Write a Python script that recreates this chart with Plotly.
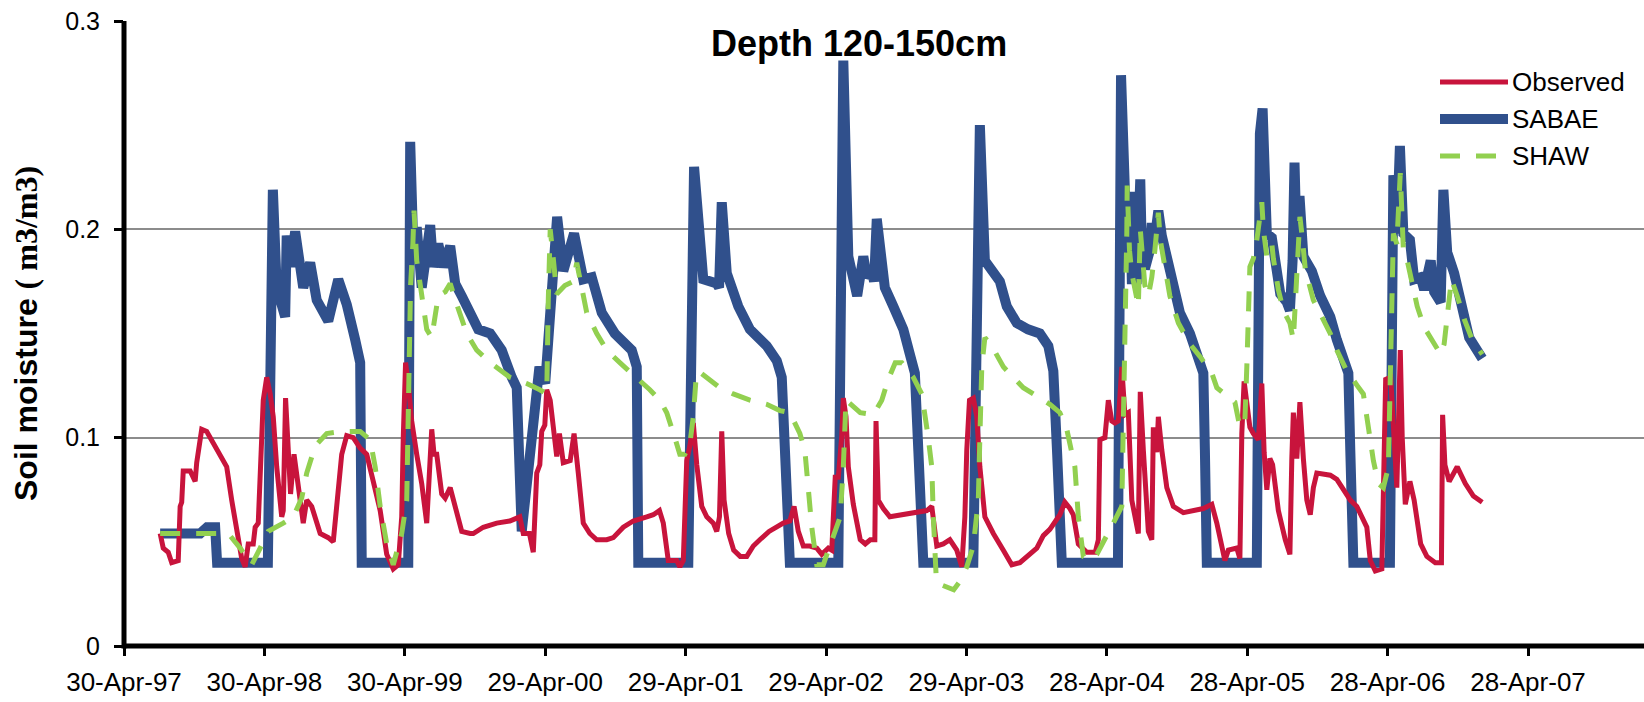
import pandas as pd
import plotly.graph_objects as go

START = pd.Timestamp("1997-04-30")

# ---- data (days since 30-Apr-1997, soil moisture m3/m3) ----
sabae_day = [94, 198, 216, 237, 242, 374, 387, 397, 419, 423, 433, 445, 466, 484, 501, 531, 557, 579, 601, 614, 618,
             739, 744, 752, 761, 774, 796, 804, 817, 830, 848, 861, 878, 900, 921, 952, 982, 1008, 1021, 1034, 1080,
             1095, 1126, 1142, 1155, 1170, 1194, 1216, 1242, 1276, 1320, 1333, 1337,
             1467, 1482, 1492, 1506, 1541, 1547, 1554, 1567, 1597, 1627, 1671, 1697, 1710, 1718, 1731,
             1857, 1870, 1883, 1906, 1922, 1931, 1944, 1950, 1957, 1968, 1978, 2000, 2026, 2043, 2056, 2065, 2078,
             2208, 2225, 2238, 2260, 2277, 2295, 2321, 2350, 2381, 2403, 2416, 2426, 2438,
             2584, 2592, 2602, 2607, 2615, 2620, 2633, 2642, 2646, 2654, 2667, 2672, 2680, 2689, 2698, 2711, 2728,
             2745, 2771, 2797, 2806, 2810, 2815,
             2945, 2953, 2960, 2966, 2971, 2984, 2992, 3006, 3023, 3031, 3038, 3043, 3049, 3056, 3066, 3088, 3110,
             3136, 3153, 3174, 3183, 3188, 3196,
             3291, 3296, 3300, 3309, 3317, 3326, 3343, 3354, 3371, 3380, 3397, 3406, 3423, 3430, 3440, 3458, 3475,
             3497, 3531]
sabae_val = [0.054, 0.054, 0.057, 0.057, 0.040, 0.040, 0.219, 0.172, 0.158, 0.197, 0.182, 0.199, 0.172, 0.184, 0.166,
             0.156, 0.176, 0.164, 0.147, 0.136, 0.040,
             0.040, 0.242, 0.192, 0.201, 0.172, 0.202, 0.182, 0.193, 0.182, 0.192, 0.174, 0.168, 0.160, 0.152, 0.150,
             0.142, 0.129, 0.124, 0.055, 0.134,
             0.126, 0.206, 0.180, 0.187, 0.198, 0.176, 0.177, 0.160, 0.150, 0.142, 0.134, 0.040,
             0.040, 0.230, 0.201, 0.176, 0.174, 0.172, 0.213, 0.179, 0.163, 0.152, 0.144, 0.137, 0.129, 0.094, 0.040,
             0.040, 0.281, 0.187, 0.168, 0.187, 0.177, 0.180, 0.175, 0.205, 0.180, 0.172, 0.163, 0.152, 0.140, 0.131,
             0.094, 0.040,
             0.040, 0.250, 0.185, 0.179, 0.175, 0.163, 0.155, 0.152, 0.150, 0.144, 0.132, 0.092, 0.040,
             0.040, 0.274, 0.219, 0.182, 0.218, 0.176, 0.176, 0.224, 0.190, 0.181, 0.190, 0.203, 0.196, 0.209, 0.197,
             0.187, 0.173,
             0.160, 0.150, 0.136, 0.131, 0.094, 0.040,
             0.040, 0.246, 0.258, 0.215, 0.198, 0.196, 0.183, 0.169, 0.165, 0.161, 0.185, 0.232, 0.190, 0.216, 0.187,
             0.180, 0.168,
             0.158, 0.147, 0.134, 0.131, 0.094, 0.040,
             0.040, 0.160, 0.226, 0.198, 0.240, 0.198, 0.195, 0.176, 0.177, 0.171, 0.185, 0.170, 0.165, 0.219, 0.189,
             0.179, 0.163,
             0.148, 0.138]

obs_day = [94, 102, 115, 124, 141, 146, 150, 154, 172, 185, 189, 202, 215, 241, 267, 280, 293, 306, 315, 323, 336,
           341, 349, 362, 371, 380, 388, 397, 410, 414, 420, 427, 433, 442, 449, 458, 466, 475, 488, 510, 531, 544,
           553, 566, 579, 596, 614, 631, 648, 666, 683, 700, 713, 722, 726, 732, 739, 748, 761, 774, 787, 796, 800,
           806, 813, 826, 835, 848, 861, 878, 900, 908, 934, 969, 1003, 1029, 1038, 1054, 1064, 1068, 1073, 1081,
           1086, 1094, 1099, 1108, 1116, 1125, 1132, 1142, 1160, 1170, 1181, 1194, 1211, 1229, 1255, 1272, 1298,
           1324, 1359, 1376, 1392, 1402, 1415, 1437, 1445, 1454, 1463, 1471, 1480, 1489, 1502, 1515, 1532, 1541,
           1548, 1554, 1560, 1572, 1585, 1602, 1619, 1636, 1653, 1677, 1714, 1731, 1742, 1753, 1766, 1783, 1801,
           1814, 1831, 1840, 1849, 1857, 1866, 1870, 1877, 1883, 1896, 1914, 1927, 1940, 1952, 1955, 1961, 1974,
           1991, 2026, 2061, 2087, 2100, 2104, 2113, 2130, 2147, 2165, 2178, 2186, 2191, 2198, 2208, 2217, 2225,
           2238, 2260, 2286, 2308, 2329, 2347, 2373, 2390, 2407, 2433, 2446, 2459, 2468, 2481, 2503, 2525, 2533,
           2537, 2550, 2559, 2568, 2576, 2585, 2594, 2602, 2611, 2620, 2637, 2642, 2650, 2663, 2672, 2676, 2685,
           2689, 2698, 2711, 2728, 2754, 2806, 2828, 2841, 2854, 2862, 2871, 2893, 2901, 2906, 2912, 2919, 2927,
           2936, 2949, 2958, 2964, 2971, 2979, 2986, 2992, 3001, 3019, 3031, 3036, 3040, 3049, 3057, 3066, 3075,
           3084, 3092, 3101, 3136, 3153, 3170, 3188, 3205, 3221, 3231, 3240, 3253, 3270, 3274, 3280, 3293, 3303,
           3309, 3318, 3323, 3331, 3343, 3354, 3371, 3387, 3409, 3425, 3428, 3434, 3445, 3466, 3487, 3508, 3531]
obs_val = [0.054, 0.047, 0.045, 0.040, 0.041, 0.067, 0.069, 0.084, 0.084, 0.079, 0.088, 0.104, 0.103, 0.094, 0.086,
           0.070, 0.054, 0.042, 0.038, 0.049, 0.049,
           0.057, 0.059, 0.118, 0.129, 0.121, 0.110, 0.086, 0.062, 0.065, 0.119, 0.086, 0.073, 0.092, 0.081, 0.071,
           0.059, 0.070, 0.067, 0.054, 0.052, 0.050,
           0.070, 0.092, 0.101, 0.100, 0.095, 0.092, 0.079, 0.065, 0.044, 0.037, 0.039, 0.062, 0.100, 0.136, 0.126,
           0.108, 0.092, 0.078, 0.059, 0.092, 0.104,
           0.092, 0.092, 0.073, 0.071, 0.076, 0.066, 0.055, 0.054, 0.054, 0.057, 0.059, 0.060, 0.062, 0.054, 0.054,
           0.045, 0.062, 0.083, 0.087,
           0.103, 0.106, 0.123, 0.118, 0.106, 0.091, 0.102, 0.088, 0.089, 0.102, 0.083, 0.059, 0.054, 0.051, 0.051,
           0.052, 0.057,
           0.060, 0.062, 0.063, 0.065, 0.059, 0.041, 0.041, 0.038, 0.041, 0.089, 0.096, 0.107, 0.087, 0.067, 0.062,
           0.059, 0.055,
           0.062, 0.103, 0.070, 0.054, 0.046, 0.043, 0.043, 0.048, 0.051, 0.055, 0.059, 0.060, 0.067, 0.055, 0.048,
           0.048, 0.047,
           0.044, 0.047, 0.046, 0.081, 0.081, 0.101, 0.119, 0.110, 0.086, 0.068, 0.051, 0.049, 0.051, 0.051, 0.108,
           0.070, 0.066,
           0.062, 0.063, 0.064, 0.065, 0.067, 0.060, 0.048, 0.049, 0.051, 0.046, 0.038, 0.062, 0.094, 0.118, 0.119,
           0.110, 0.086,
           0.062, 0.054, 0.046, 0.039, 0.040, 0.043, 0.047, 0.053, 0.056, 0.063, 0.069, 0.066, 0.063, 0.049, 0.045,
           0.045, 0.051,
           0.099, 0.100, 0.118, 0.108, 0.107, 0.108, 0.134, 0.111, 0.112, 0.070, 0.054, 0.122, 0.094, 0.055, 0.051,
           0.105, 0.093,
           0.110, 0.094, 0.076, 0.067, 0.064, 0.066, 0.068, 0.059, 0.047, 0.041, 0.046, 0.047, 0.042, 0.102, 0.127,
           0.118, 0.105,
           0.102, 0.099, 0.126, 0.093, 0.075, 0.090, 0.087, 0.078, 0.065, 0.051, 0.044, 0.090, 0.112, 0.090, 0.117,
           0.090, 0.070,
           0.063, 0.076, 0.083, 0.082, 0.080, 0.075, 0.070, 0.067, 0.060, 0.057, 0.041, 0.036, 0.037, 0.085, 0.128,
           0.129, 0.095,
           0.076, 0.142, 0.100, 0.068, 0.079, 0.070, 0.049, 0.043, 0.040, 0.040, 0.111, 0.087, 0.079, 0.086, 0.078,
           0.072, 0.069]

shaw_day = [94, 198, 271, 302, 332, 354, 375, 414, 440, 462, 475, 497, 527, 566, 614, 640, 653, 666, 683, 700, 722,
            735, 742, 745, 751, 754, 761, 770, 778, 787, 800, 809, 817, 835, 848, 865, 891, 917, 952, 1003, 1047,
            1081, 1099, 1103, 1108, 1116, 1125, 1146, 1168, 1177, 1190, 1203, 1229, 1255, 1289, 1333, 1367, 1393,
            1411, 1432, 1445, 1458, 1471, 1480, 1487, 1493, 1515, 1549, 1584, 1627, 1671, 1705, 1731, 1757, 1770,
            1779, 1788, 1801, 1818, 1831, 1862, 1870, 1877, 1914, 1948, 1970, 1987, 2005, 2022, 2052, 2074, 2090,
            2100, 2104, 2111, 2116, 2157, 2173, 2191, 2208, 2221, 2225, 2230, 2238, 2256, 2286, 2338, 2373, 2407,
            2433, 2451, 2472, 2481, 2494, 2511, 2529, 2550, 2572, 2594, 2598, 2602, 2607, 2608, 2614, 2620, 2629,
            2637, 2642, 2646, 2654, 2663, 2672, 2680, 2689, 2694, 2707, 2719, 2741, 2771, 2797, 2828, 2841, 2871,
            2888, 2901, 2914, 2919, 2923, 2927, 2936, 2945, 2958, 2962, 2971, 2984, 2988, 3001, 3014, 3031, 3040,
            3045, 3049, 3053, 3057, 3062, 3071, 3092, 3118, 3136, 3153, 3179, 3206, 3222, 3235, 3248, 3261, 3274,
            3287, 3291, 3296, 3300, 3309, 3318, 3326, 3336, 3349, 3362, 3380, 3397, 3423, 3432, 3440, 3451, 3466,
            3484, 3505, 3531]
shaw_val = [0.054, 0.054, 0.054, 0.047, 0.039, 0.047, 0.055, 0.059, 0.062, 0.071, 0.083, 0.096, 0.102, 0.103, 0.103,
            0.099, 0.086, 0.067, 0.049, 0.039, 0.054,
            0.070, 0.134, 0.173, 0.193, 0.209, 0.185, 0.173, 0.161, 0.152, 0.148, 0.160, 0.168, 0.170, 0.174, 0.164,
            0.150, 0.142, 0.136, 0.129, 0.126,
            0.123, 0.121, 0.166, 0.200, 0.186, 0.169, 0.173, 0.175, 0.184, 0.172, 0.160, 0.150, 0.142, 0.136, 0.129,
            0.123, 0.118,
            0.112, 0.100, 0.092, 0.092, 0.097, 0.110, 0.128, 0.132, 0.129, 0.124, 0.121, 0.118, 0.116, 0.113, 0.112,
            0.102, 0.094,
            0.076, 0.057, 0.039, 0.039, 0.046, 0.062, 0.086, 0.118, 0.112, 0.111, 0.118, 0.128, 0.136, 0.136, 0.129,
            0.121, 0.101,
            0.086, 0.062, 0.035, 0.030, 0.027, 0.031, 0.038, 0.048, 0.070, 0.100, 0.134, 0.148, 0.144, 0.134, 0.124,
            0.120, 0.116,
            0.112, 0.104, 0.086, 0.062, 0.043, 0.041, 0.044, 0.052, 0.059, 0.067, 0.100, 0.150, 0.198, 0.221, 0.190,
            0.179, 0.169,
            0.163, 0.200, 0.190, 0.173, 0.168, 0.177, 0.190, 0.208, 0.195, 0.182, 0.168, 0.155, 0.145, 0.139, 0.131,
            0.124, 0.120,
            0.117, 0.105, 0.108, 0.134, 0.166, 0.182, 0.186, 0.195, 0.213, 0.200, 0.187, 0.193, 0.186, 0.171, 0.161,
            0.155, 0.147,
            0.163, 0.179, 0.198, 0.206, 0.198, 0.181, 0.166, 0.157, 0.150, 0.142, 0.132, 0.125, 0.121, 0.105, 0.089,
            0.078, 0.076,
            0.086, 0.118, 0.166, 0.198, 0.193, 0.227, 0.190, 0.185, 0.174, 0.163, 0.153, 0.148, 0.140, 0.145, 0.160,
            0.176, 0.168,
            0.157, 0.147, 0.140]

tick_days = [0, 365, 730, 1095, 1460, 1825, 2190, 2555, 2920, 3285, 3650]
y_ticks = [0, 0.1, 0.2, 0.3]
y_ticktext = ["0", "0.1", "0.2", "0.3"]
series_names = ["Observed", "SABAE", "SHAW"]


def to_dates(days):
    return [START + pd.Timedelta(days=d) for d in days]


tick_dates = to_dates(tick_days)
tick_text = [d.strftime("%d-%b-%y") for d in tick_dates]

C_OBS = "#C8143C"
C_SAB = "#30508C"
C_SHAW = "#92D050"
FONT = "Liberation Sans, Arial, sans-serif"

fig = go.Figure()
fig.add_trace(go.Scatter(x=to_dates(sabae_day), y=sabae_val, mode="lines", name="SABAE",
                         line=dict(color=C_SAB, width=10), showlegend=False))
fig.add_trace(go.Scatter(x=to_dates(obs_day), y=obs_val, mode="lines", name="Observed",
                         line=dict(color=C_OBS, width=5), showlegend=False))
fig.add_trace(go.Scatter(x=to_dates(shaw_day), y=shaw_val, mode="lines", name="SHAW",
                         line=dict(color=C_SHAW, width=5, dash="20px,16px"), showlegend=False))

# plot area in pixels: left 124, right 1644, top 21, bottom 646
L, R, T, B = 124, 1644, 21, 646


def px(x):
    return (x - L) / (R - L)


def py(y):
    return (B - y) / (B - T)


# thick black axis lines along the plot-area edges
shapes = [dict(type="line", xref="paper", yref="paper", x0=0, x1=1, y0=0, y1=0, layer="above",
               line=dict(color="black", width=5)),
          dict(type="line", xref="paper", yref="paper", x0=0, x1=0, y0=py(B + 2.5), y1=1, layer="above",
               line=dict(color="black", width=5))]
annotations = []

# custom legend (long line samples like the original)
legend_rows = [(series_names[0], C_OBS, 5, "solid", 82),
               (series_names[1], C_SAB, 10, "solid", 119),
               (series_names[2], C_SHAW, 5, "20px,16px", 156)]
for name, col, w, dash, ypix in legend_rows:
    shapes.append(dict(type="line", xref="paper", yref="paper", x0=px(1440), x1=px(1508),
                       y0=py(ypix), y1=py(ypix), line=dict(color=col, width=w, dash=dash)))
    annotations.append(dict(text=name, xref="paper", yref="paper", x=px(1510), y=py(ypix),
                            xanchor="left", yanchor="middle", showarrow=False,
                            font=dict(family=FONT, size=26, color="black")))

annotations.append(dict(text="<b>Depth 120-150cm</b>", xref="paper", yref="paper", x=px(859), y=py(43),
                        xanchor="center", yanchor="middle", showarrow=False,
                        font=dict(family=FONT, size=36, color="black")))
annotations.append(dict(text="<b>Soil moisture <span style=\"font-family:'Liberation Serif', 'Times New Roman', serif\">( m3/m3)</span></b>",
                        xref="paper", yref="paper", x=px(26), y=py(334), textangle=-90,
                        xanchor="center", yanchor="middle", showarrow=False,
                        font=dict(family=FONT, size=32, color="black")))

fig.update_layout(
    width=1644, height=702,
    margin=dict(l=L, r=1644 - R, t=T, b=702 - B, pad=0, autoexpand=False),
    paper_bgcolor="white", plot_bgcolor="white",
    showlegend=False,
    shapes=shapes, annotations=annotations,
    xaxis=dict(type="date", range=[START, START + pd.Timedelta(days=(R - L) * 3650 / 1404)],
               tickvals=tick_dates, ticktext=tick_text, showgrid=False, zeroline=False,
               showline=False, automargin=False,
               ticks="outside", ticklen=9, tickwidth=3, tickcolor="black",
               tickfont=dict(family=FONT, size=26, color="black"), ticklabelstandoff=4),
    yaxis=dict(range=[0, 0.3], tickvals=y_ticks, ticktext=y_ticktext, automargin=False,
               showgrid=True, gridcolor="#8c8c8c", gridwidth=1.5, zeroline=False,
               showline=False,
               ticks="outside", ticklen=9, tickwidth=3, tickcolor="black",
               tickfont=dict(family=FONT, size=25, color="black"), ticklabelstandoff=9),
)

fig.write_html("out.html", config={"displayModeBar": False},
               post_script="document.body.style.margin='0';document.body.style.overflow='hidden';")
